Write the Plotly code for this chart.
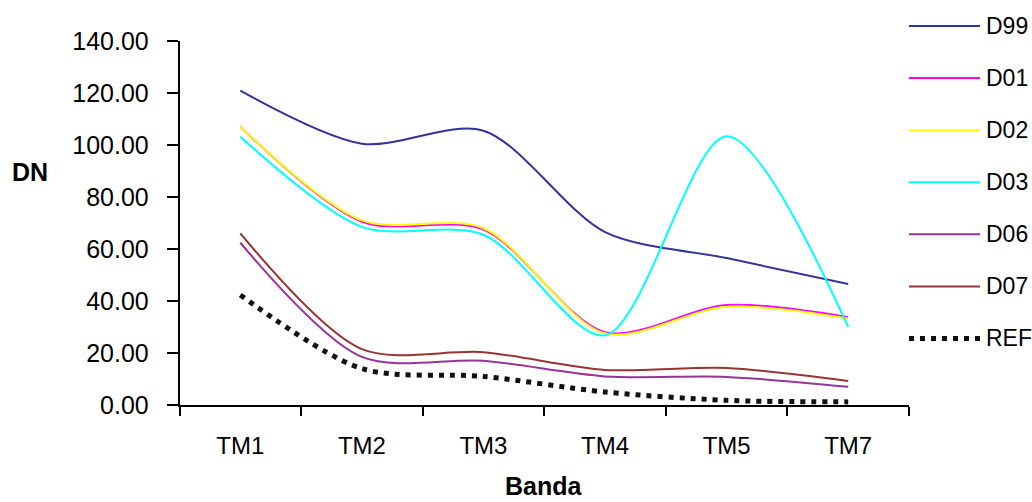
import plotly.graph_objects as go

categories = ["TM1", "TM2", "TM3", "TM4", "TM5", "TM7"]
series_names = ["D99", "D01", "D02", "D03", "D06", "D07", "REF"]
d99 = [120.9, 100.5, 105.5, 66.5, 56.5, 46.5]
d01 = [107.0, 70.5, 67.5, 28.0, 38.5, 33.8]
d02 = [107.0, 71.0, 68.0, 27.5, 37.8, 33.2]
d03 = [103.2, 68.5, 65.5, 26.8, 103.4, 30.0]
d06 = [62.4, 18.5, 17.0, 11.0, 10.8, 7.0]
d07 = [66.0, 21.5, 20.3, 13.5, 14.2, 9.2]
ref = [42.3, 14.0, 11.0, 5.0, 1.8, 1.2]
y_ticks = [0, 20, 40, 60, 80, 100, 120, 140]

values = [d99, d01, d02, d03, d06, d07, ref]
colors = ["#333399", "#FF00FF", "#FFFF00", "#00FFFF", "#993399", "#993333", "#111111"]
widths = [2, 2, 2, 2, 2, 2, 5]
dashes = ["solid"] * 6 + ["5px,6px"]

W, H = 1032, 502
FONT = "Liberation Sans, Arial, sans-serif"

fig = go.Figure()
for name, vals, c, w, d in zip(series_names, values, colors, widths, dashes):
    fig.add_trace(go.Scatter(
        x=categories, y=vals, name=name, mode="lines",
        line=dict(color=c, width=w, dash=d, shape="spline", smoothing=0.85),
        showlegend=False, hoverinfo="skip"))

# custom legend drawn on a secondary axis pair
for i, (name, c, w, d) in enumerate(zip(series_names, colors, widths, dashes)):
    fig.add_trace(go.Scatter(
        x=[0, 1], y=[i, i], mode="lines", xaxis="x2", yaxis="y2",
        line=dict(color=c, width=w, dash=d),
        showlegend=False, hoverinfo="skip"))
    fig.add_annotation(x=1, y=i, xref="x2", yref="y2", text=name,
                       showarrow=False, xanchor="left", yanchor="middle", xshift=4,
                       font=dict(family=FONT, size=23, color="#000000"))

fig.add_annotation(x=30 / W, y=1 - 172 / H, xref="paper", yref="paper", text="<b>DN</b>",
                   showarrow=False, xanchor="center", yanchor="middle",
                   font=dict(family=FONT, size=25, color="#000000"))
fig.add_annotation(x=544 / W, y=1 - 486 / H, xref="paper", yref="paper", text="<b>Banda</b>",
                   showarrow=False, xanchor="center", yanchor="middle",
                   font=dict(family=FONT, size=25, color="#000000"))

fig.update_layout(
    width=W, height=H,
    margin=dict(l=0, r=0, t=0, b=0, autoexpand=False),
    paper_bgcolor="white", plot_bgcolor="white",
    xaxis=dict(domain=[179.5 / W, 909 / W], type="category", range=[-0.5, 5.5],
               automargin=False,
               showline=True, linecolor="#000000", linewidth=1.5,
               ticks="outside", ticklen=9, tickcolor="#000000", tickwidth=1.5,
               tickson="boundaries", showgrid=False, zeroline=False,
               ticklabelstandoff=18,
               tickfont=dict(family=FONT, size=24, color="#000000")),
    yaxis=dict(domain=[1 - 405 / H, 1 - 41 / H], range=[0, 140],
               automargin=False,
               tickvals=y_ticks, tickformat=".2f",
               showline=True, linecolor="#000000", linewidth=1.5,
               ticks="outside", ticklen=11, tickcolor="#000000", tickwidth=1.5,
               showgrid=False, zeroline=False, ticklabelstandoff=13,
               tickfont=dict(family=FONT, size=25, color="#000000")),
    xaxis2=dict(domain=[909 / W, 980 / W], range=[0, 1], visible=False,
                anchor="y2", automargin=False),
    yaxis2=dict(domain=[1 - 364.5 / H, 1.0], range=[6.5, -0.5], visible=False,
                anchor="x2", automargin=False),
)

fig.write_html("out.html")
